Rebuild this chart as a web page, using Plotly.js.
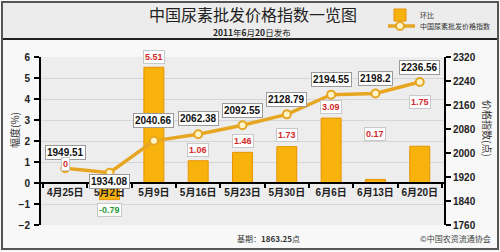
<!DOCTYPE html>
<html>
<head>
<meta charset="utf-8">
<script src="https://cdn.plot.ly/plotly-3.0.1.min.js"></script>
<style>
  html, body { margin: 0; padding: 0; background: #ffffff; }
  #chart { width: 500px; height: 252px; }
</style>
</head>
<body>
<div id="chart"></div>
<script>
// ---- data ----
const dates = ["4月25日", "5月2日", "5月9日", "5月16日", "5月23日", "5月30日", "6月6日", "6月13日", "6月20日"];
const changePct = [0, -0.79, 5.51, 1.06, 1.46, 1.73, 3.09, 0.17, 1.75];
const priceIndex = [1949.51, 1934.08, 2040.66, 2062.38, 2092.55, 2128.79, 2194.55, 2198.2, 2236.56];
const baseValue = "1863.25";
const leftTicks = [-2, -1, 0, 1, 2, 3, 4, 5, 6];
const rightTicks = [1760, 1840, 1920, 2000, 2080, 2160, 2240, 2320];

// ---- styling / label placement ----
const W = 500, H = 252;
const px = v => v / W;          // pixel x -> paper fraction
const py = v => 1 - v / H;      // pixel y -> paper fraction
const FONT = "Liberation Sans, Arial, Noto Sans CJK SC, sans-serif";
const CJK = "Noto Sans CJK SC, sans-serif";
const idxShift = [16, -9, 20, 16, 15, 15, 15, 15, 15];
const pctShift = [19, -10, 10, 11, 11, 12, 11, 45, 44];

const bars = {
  type: "bar",
  name: "环比",
  legend: "legend",
  x: dates,
  y: changePct,
  width: 0.45,
  marker: { color: "#F8B20C", line: { color: "#E89200", width: 1 } },
  yaxis: "y",
  hoverinfo: "skip"
};

const line = {
  type: "scatter",
  mode: "lines+markers",
  name: "中国尿素批发价格指数",
  legend: "legend2",
  x: dates,
  y: priceIndex,
  yaxis: "y2",
  line: { color: "#E6A622", width: 3.5 },
  marker: { symbol: "circle", size: 8, color: "#FFF4C8", line: { color: "#E6A622", width: 2 } },
  hoverinfo: "skip"
};

const annotations = [];
dates.forEach((d, i) => {
  annotations.push({
    x: d, y: priceIndex[i], xref: "x", yref: "y2",
    text: "<b>" + priceIndex[i] + "</b>",
    showarrow: false, yshift: idxShift[i],
    font: { family: FONT, size: 10, color: "#111" },
    bgcolor: "#ffffff", bordercolor: "#9a9a9a", borderwidth: 1, borderpad: 1
  });
  const v = changePct[i];
  annotations.push({
    x: d, y: v, xref: "x", yref: "y",
    text: "<b>" + v + "</b>",
    showarrow: false, yshift: pctShift[i],
    font: { family: FONT, size: 9, color: v < 0 ? "#2f9a3a" : "#d22a2a" },
    bgcolor: "#ffffff", bordercolor: "#c8c8c8", borderwidth: 1, borderpad: 1
  });
});

annotations.push(
  { xref: "paper", yref: "paper", x: px(252), y: py(32), yanchor: "middle", xanchor: "center",
    text: "<b>2011</b>年<b>6</b>月<b>20</b>日发布", showarrow: false,
    font: { family: CJK, size: 8.5, color: "#222" } },
  { xref: "paper", yref: "paper", x: px(14), y: py(130), textangle: -90, xanchor: "center", yanchor: "middle",
    text: "幅度(%)", showarrow: false, font: { family: CJK, size: 10, color: "#333" } },
  { xref: "paper", yref: "paper", x: px(488), y: py(128), textangle: 90, xanchor: "center", yanchor: "middle",
    text: "价格指数(点)", showarrow: false, font: { family: CJK, size: 10, color: "#333" } },
  { xref: "paper", yref: "paper", x: px(268), y: py(238), xanchor: "center", yanchor: "middle",
    text: "基期：<b>" + baseValue + "</b>点", showarrow: false,
    font: { family: CJK, size: 8, color: "#333" } },
  { xref: "paper", yref: "paper", x: px(455), y: py(238), xanchor: "center", yanchor: "middle",
    text: "©中国农资流通协会", showarrow: false,
    font: { family: CJK, size: 8, color: "#444" } }
);

const legendStyle = {
  xanchor: "left", yanchor: "middle",
  bgcolor: "rgba(0,0,0,0)", borderwidth: 0,
  font: { family: CJK, size: 7, color: "#333" },
  itemwidth: 30, indentation: -8
};

const layout = {
  width: W, height: H,
  margin: { l: 0, r: 0, t: 0, b: 0, pad: 0 },
  paper_bgcolor: "#f8f8f8",
  plot_bgcolor: "#ededed",
  showlegend: true,
  legend: Object.assign({ x: px(388), y: py(15) }, legendStyle),
  legend2: Object.assign({ x: px(388), y: py(26) }, legendStyle),
  title: {
    text: "中国尿素批发价格指数一览图",
    x: px(253), xanchor: "center", y: py(15), yanchor: "middle",
    font: { family: CJK, size: 16, color: "#222" }
  },
  bargap: 0.55,
  xaxis: {
    type: "category",
    domain: [px(40), px(445)],
    anchor: "free", position: py(183),
    showline: true, linecolor: "#000", linewidth: 2,
    ticks: "outside", tickson: "boundaries", ticklen: 4, tickwidth: 2, tickcolor: "#000",
    tickangle: 0,
    showgrid: false, zeroline: false,
    tickfont: { family: FONT, size: 10, color: "#222", weight: "bold" },
    fixedrange: true
  },
  yaxis: {
    domain: [py(225), py(57)],
    range: [-2, 6], tickvals: leftTicks,
    anchor: "free", position: px(40),
    showline: true, linecolor: "#000", linewidth: 2,
    ticks: "outside", ticklen: 5, tickwidth: 2, tickcolor: "#000",
    showgrid: true, gridcolor: "#d6d6d6", gridwidth: 1,
    zeroline: false,
    tickfont: { family: FONT, size: 10, color: "#222", weight: "bold" },
    ticklabelstandoff: 2
  },
  yaxis2: {
    domain: [py(225), py(57)],
    range: [1760, 2320], tickvals: rightTicks,
    overlaying: "y", side: "right", anchor: "free", position: px(445),
    showline: true, linecolor: "#000", linewidth: 2,
    ticks: "outside", ticklen: 5, tickwidth: 2, tickcolor: "#000",
    showgrid: false, zeroline: false,
    tickfont: { family: FONT, size: 10, color: "#222", weight: "bold" }
  },
  shapes: [
    { type: "rect", xref: "paper", yref: "paper", x0: px(2), x1: px(498), y0: py(38), y1: py(2),
      fillcolor: "#ececec", line: { width: 0 }, layer: "below" },
    { type: "line", xref: "paper", yref: "paper", x0: px(2), x1: px(498), y0: py(39), y1: py(39),
      line: { color: "#222", width: 2 } },
    { type: "rect", xref: "paper", yref: "paper", x0: px(2), x1: px(498), y0: py(249), y1: py(2),
      line: { color: "#555", width: 2 }, fillcolor: "rgba(0,0,0,0)" }
  ],
  annotations: annotations
};

Plotly.newPlot("chart", [bars, line], layout, { staticPlot: true, displayModeBar: false });
</script>
</body>
</html>
